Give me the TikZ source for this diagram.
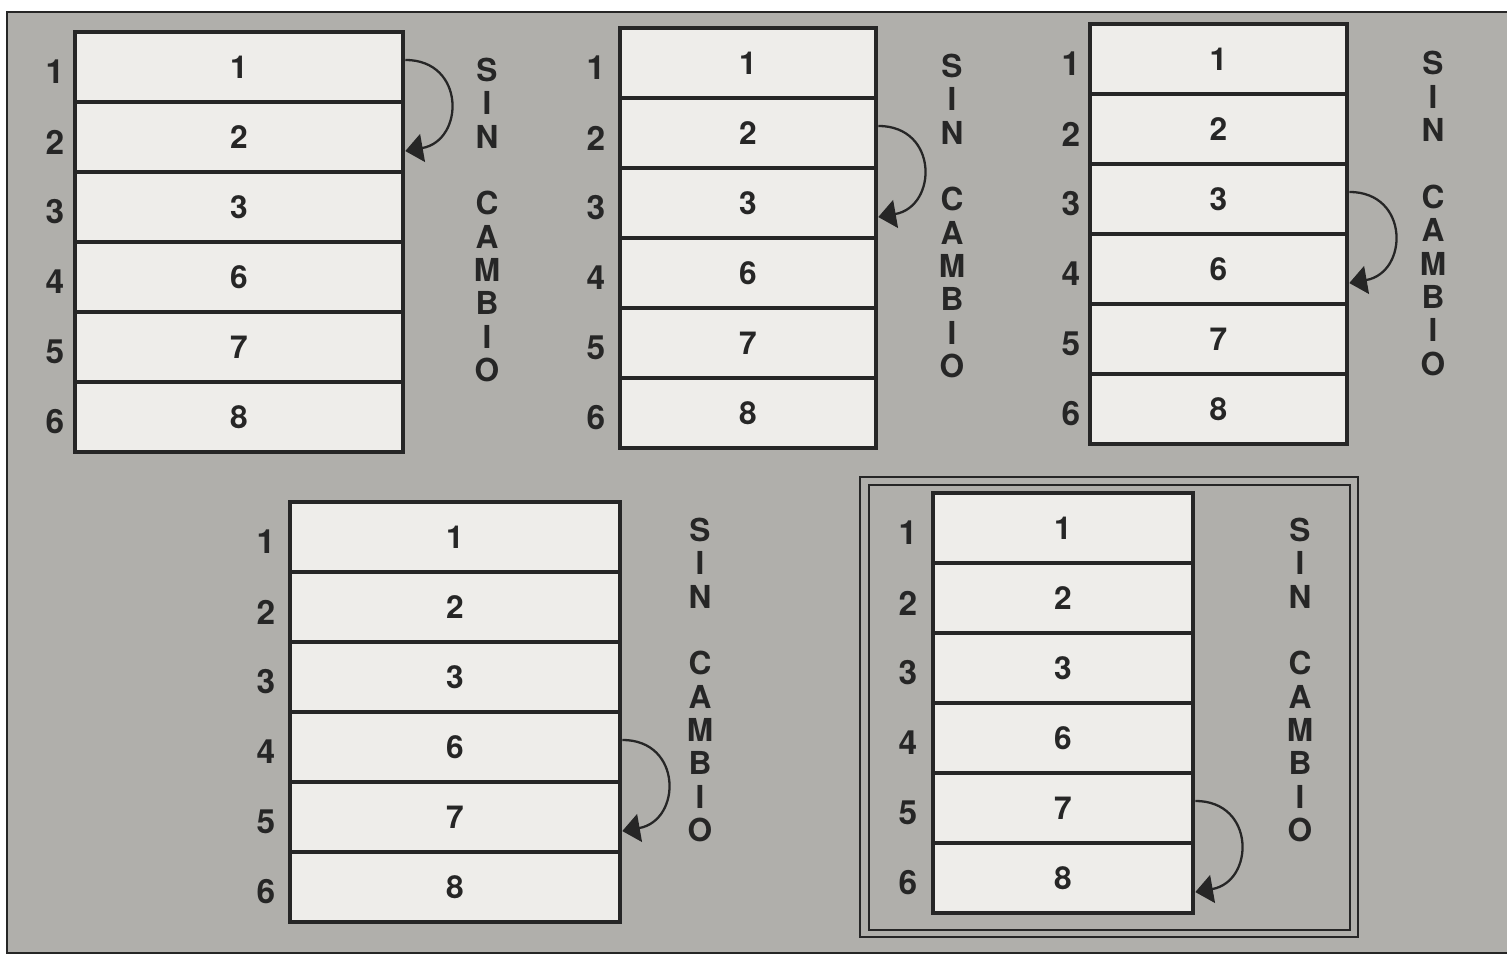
\documentclass[tikz,border=0pt]{standalone}
\usepackage{fontspec}
\setmainfont{TeX Gyre Heros}
\usetikzlibrary{arrows.meta}

\definecolor{panelgray}{HTML}{B0AFAB}
\definecolor{cellwhite}{HTML}{EEEDEA}
\definecolor{inkline}{HTML}{262626}

\begin{document}
\begin{tikzpicture}[
    cell/.style={draw=inkline, fill=cellwhite, line width=2.6pt,
        minimum height=1.4cm, inner sep=0pt,
        font=\fontsize{18}{20}\selectfont\bfseries, text=inkline},
    rowidx/.style={font=\fontsize{19}{21}\selectfont\bfseries, text=inkline},
    sinlbl/.style={align=center, inner sep=0pt, text=inkline,
        font=\fontsize{18}{19}\selectfont\bfseries},
    swaparrow/.style={-{Triangle[length=10pt,width=16pt]}, line width=1.3pt,
        draw=inkline, looseness=1.7},
]
\useasboundingbox (0,0) rectangle (30.14,19.12);

% Gray panel
\draw[inkline, fill=panelgray, line width=1.6pt] (0.14,0.06) rectangle (30.6,18.88);

% Double frame round the last array
\draw[inkline, line width=0.9pt] (17.2,0.38) rectangle (27.16,9.58);
\draw[inkline, line width=0.9pt] (17.38,0.52) rectangle (27.0,9.42);

% Five arrays of six cells, with row numbers and label
\foreach \nm/\cx/\ytop/\w/\ix/\sx/\sy in {
    a/4.78/18.48/6.56/1.1/9.74/14.72,
    b/14.96/18.56/5.12/11.92/19.04/14.8,
    c/24.37/18.64/5.14/21.42/28.66/14.85,
    d/9.1/9.08/6.6/5.32/14.0/5.52,
    e/21.26/9.26/5.2/18.16/26.0/5.52}{
  \foreach \v [count=\i] in {1,2,3,6,7,8}{
    \node[cell, minimum width=\w cm] (\nm\i) at (\cx,{\ytop-1.4*\i+0.7}) {\v};
    \node[rowidx] (\nm idx\i) at (\ix,{\ytop-1.4*\i+0.6}) {\i};
  }
  \node[sinlbl] (\nm sin) at (\sx,\sy) {S\\I\\N\\[19pt]C\\A\\M\\B\\I\\O};
}

% Compared pairs
\draw[swaparrow] ([yshift=4pt]a1.east) to[out=0, in=10] ([yshift=-8pt]a2.east);
\draw[swaparrow] ([yshift=4pt]b2.east) to[out=0, in=10] ([yshift=-8pt]b3.east);
\draw[swaparrow] ([yshift=4pt]c3.east) to[out=0, in=10] ([yshift=-8pt]c4.east);
\draw[swaparrow] ([yshift=4pt]d4.east) to[out=0, in=10] ([yshift=-8pt]d5.east);
\draw[swaparrow] ([yshift=4pt]e5.east) to[out=0, in=10] ([yshift=-8pt]e6.east);

\end{tikzpicture}
\end{document}
